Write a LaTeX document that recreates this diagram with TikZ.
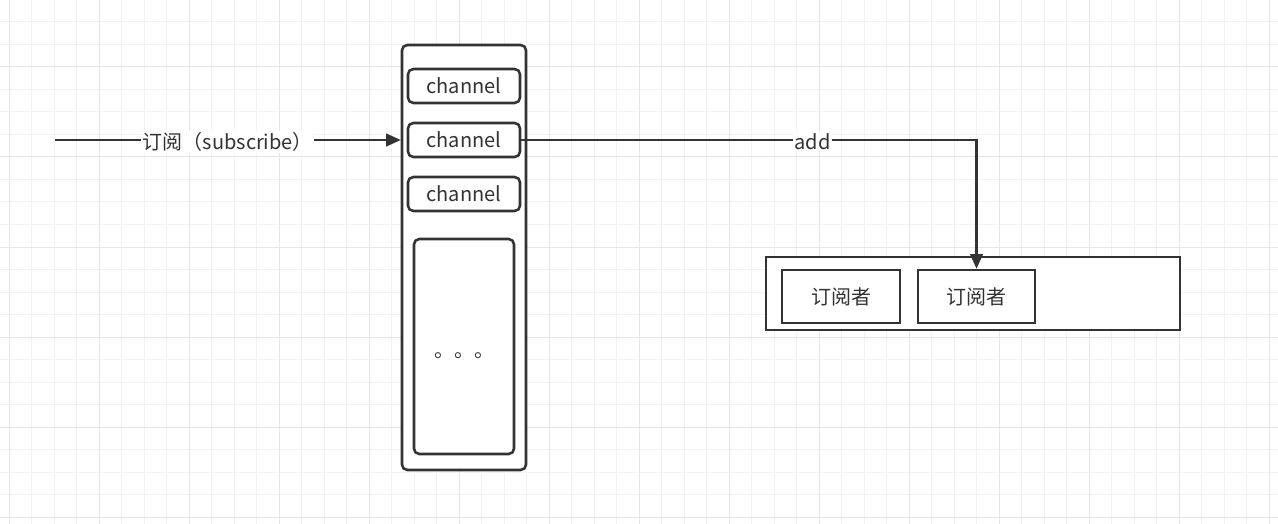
\documentclass[tikz,border=0pt]{standalone}
\usepackage{fontspec}
\setmainfont{Noto Sans CJK SC}
\usepackage{xcolor}
\usetikzlibrary{arrows.meta}

\definecolor{ink}{HTML}{333333}
\definecolor{gridminor}{HTML}{F2F2F2}
\definecolor{gridmajor}{HTML}{E6E6E6}

\tikzset{
  box/.style={draw=ink, line width=1.9pt, rounded corners=4pt, fill=white, text=ink,
    font=\fontsize{15}{18}\selectfont, inner sep=0pt},
  sqbox/.style={box, sharp corners},
  link/.style={draw=ink, line width=1.7pt, -{Triangle[length=11pt, width=9.5pt]}},
  tag/.style={fill=white, text=ink, font=\fontsize{15}{18}\selectfont, inner sep=1pt, yshift=-1.5pt},
}

\begin{document}
\begin{tikzpicture}[x=0.75pt, y=-0.75pt]
\useasboundingbox (0,0) rectangle (1278,524);

% background grid
\foreach \k in {0,...,56}
  \draw[gridminor, line width=0.75pt] ({9+22.5*\k},0) -- ({9+22.5*\k},524);
\foreach \k in {1,...,24}
  \draw[gridminor, line width=0.75pt] (0,{-23+22.5*\k}) -- (1278,{-23+22.5*\k});
\foreach \k in {0,...,14}
  \draw[gridmajor, line width=0.75pt] ({9+90*\k},0) -- ({9+90*\k},524);
\foreach \k in {0,...,5}
  \draw[gridmajor, line width=0.75pt] (0,{67+90*\k}) -- (1278,{67+90*\k});

% channel column
\node[box, minimum width=93pt, minimum height=318.75pt] (column) at (464,257.5) {};
\node[box, minimum width=84pt, minimum height=25.5pt] (chan1) at (464,86) {channel};
\node[box, minimum width=84pt, minimum height=25.5pt] (chan2) at (464,140) {channel};
\node[box, minimum width=84pt, minimum height=25.5pt] (chan3) at (464,194) {channel};
\node[box, minimum width=75pt, minimum height=161.25pt] (rest) at (464,346.5) {\raisebox{-8pt}[0pt][0pt]{。。。}};

% subscribers
\node[sqbox, minimum width=310.5pt, minimum height=54.75pt] (subs) at (973,293.5) {};
\node[sqbox, minimum width=88.5pt, minimum height=39.75pt] (sub1) at (841,296.5) {订阅者};
\node[sqbox, minimum width=88pt, minimum height=39.75pt] (sub2) at (976.5,296.5) {订阅者};

% connectors
\coordinate (src) at (55,140);
\draw[link] (src) -- (src -| column.west) node[tag, midway] {订阅（subscribe）};
\draw[link] (chan2.east) -| (sub2.north) node[tag, pos=0.32] {add};
\end{tikzpicture}
\end{document}
